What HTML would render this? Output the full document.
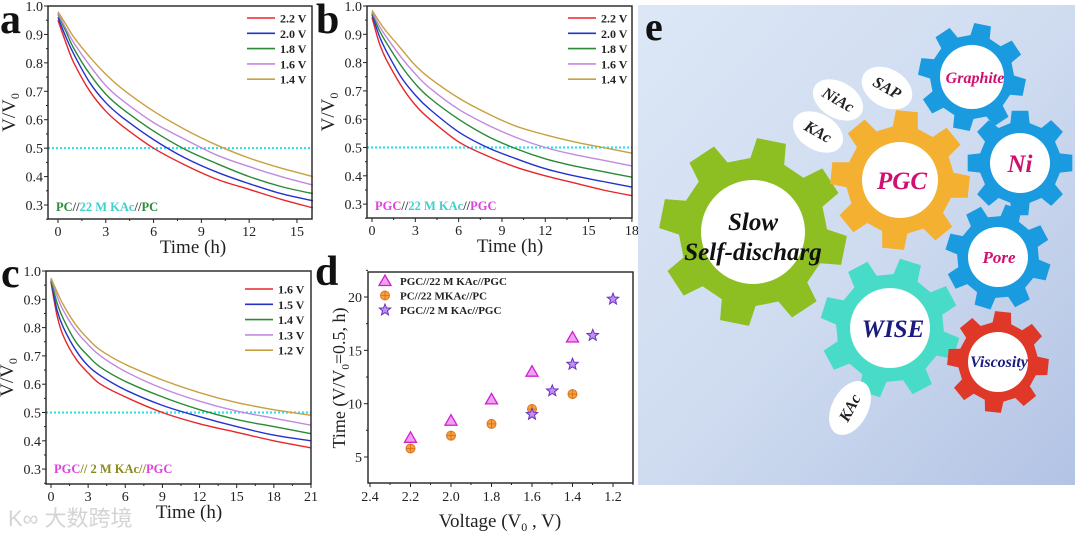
<!DOCTYPE html>
<html><head><meta charset="utf-8">
<style>
html,body{margin:0;padding:0;background:#fff;}
svg{display:block;font-family:"Liberation Serif",serif;}
</style></head>
<body>
<svg id="fig" width="1080" height="533" viewBox="0 0 1080 533">
<defs>
<linearGradient id="bgE" x1="0" y1="0" x2="1" y2="1">
<stop offset="0" stop-color="#dce7f6"/><stop offset="0.5" stop-color="#cfdcf0"/><stop offset="1" stop-color="#b3c3e4"/>
</linearGradient>
</defs>
<g id="root"></g>
</svg>
<script>
// ---- Panel a data ----
const aTimes=[0,0.5,1,2,3,4,6,8,10,12,14,16];
const aLabels=["2.2 V","2.0 V","1.8 V","1.6 V","1.4 V"];
const aS1=[0.95,0.87,0.80,0.70,0.63,0.58,0.50,0.44,0.39,0.355,0.32,0.29];
const aS2=[0.96,0.89,0.83,0.73,0.66,0.61,0.53,0.465,0.415,0.375,0.34,0.315];
const aS3=[0.97,0.91,0.85,0.76,0.69,0.64,0.56,0.495,0.445,0.40,0.365,0.34];
const aS4=[0.975,0.92,0.87,0.79,0.72,0.67,0.59,0.53,0.475,0.435,0.40,0.37];
const aS5=[0.98,0.935,0.89,0.82,0.76,0.71,0.63,0.565,0.51,0.465,0.43,0.40];
const aXTicks=[0,3,6,9,12,15];
// ---- Panel b data ----
const bTimes=[0,0.5,1,2,3,4,6,8,10,12,14,16,18];
const bLabels=["2.2 V","2.0 V","1.8 V","1.6 V","1.4 V"];
const bS1=[0.96,0.87,0.81,0.72,0.65,0.60,0.52,0.47,0.43,0.40,0.375,0.35,0.33];
const bS2=[0.97,0.895,0.84,0.75,0.685,0.635,0.555,0.50,0.46,0.425,0.40,0.38,0.36];
const bS3=[0.975,0.915,0.87,0.79,0.725,0.675,0.60,0.54,0.495,0.46,0.435,0.415,0.395];
const bS4=[0.98,0.93,0.89,0.82,0.76,0.71,0.635,0.58,0.535,0.50,0.475,0.455,0.435];
const bS5=[0.985,0.945,0.91,0.85,0.79,0.745,0.675,0.62,0.575,0.545,0.52,0.50,0.48];
const bXTicks=[0,3,6,9,12,15,18];
// ---- Panel c data ----
const cTimes=[0,0.5,1,2,3,4,6,9,12,15,18,21];
const cLabels=["1.6 V","1.5 V","1.4 V","1.3 V","1.2 V"];
const cS1=[0.96,0.84,0.77,0.69,0.64,0.60,0.555,0.50,0.46,0.43,0.40,0.375];
const cS2=[0.965,0.86,0.80,0.72,0.665,0.63,0.58,0.525,0.485,0.45,0.42,0.40];
const cS3=[0.97,0.885,0.83,0.75,0.70,0.66,0.61,0.555,0.51,0.475,0.45,0.425];
const cS4=[0.975,0.91,0.86,0.79,0.74,0.70,0.645,0.585,0.54,0.505,0.48,0.455];
const cS5=[0.975,0.925,0.88,0.81,0.76,0.72,0.67,0.615,0.57,0.535,0.51,0.49];
const cXTicks=[0,3,6,9,12,15,18,21];
const yTicks=[0.3,0.4,0.5,0.6,0.7,0.8,0.9,1.0];
// ---- Panel d data ----
const dTriV=[2.2,2.0,1.8,1.6,1.4];
const dTriT=[6.8,8.4,10.4,13.0,16.2];
const dCirV=[2.2,2.0,1.8,1.6,1.4];
const dCirT=[5.8,7.0,8.1,9.5,10.9];
const dStarV=[1.6,1.5,1.4,1.3,1.2];
const dStarT=[9.0,11.2,13.7,16.4,19.8];
const dXTicks=[2.4,2.2,2.0,1.8,1.6,1.4,1.2];
const dYTicks=[5,10,15,20];
const dLegend=["PGC//22 M KAc//PGC","PC//22 MKAc//PC","PGC//2 M KAc//PGC"];

const colors=["#e8262a","#2233cc","#2a8a35","#c08ae0","#c8a040"];
const NS="http://www.w3.org/2000/svg";
const root=document.getElementById('root');
function el(tag,attrs,parent,txt){const e=document.createElementNS(NS,tag);for(const k in attrs)e.setAttribute(k,attrs[k]);if(txt!==undefined)e.textContent=txt;(parent||root).appendChild(e);return e;}
function smooth(pts){let d="M"+pts[0][0].toFixed(1)+","+pts[0][1].toFixed(1);
 for(let i=0;i<pts.length-1;i++){const p0=pts[Math.max(0,i-1)],p1=pts[i],p2=pts[i+1],p3=pts[Math.min(pts.length-1,i+2)];
 const c1=[p1[0]+(p2[0]-p0[0])/6,p1[1]+(p2[1]-p0[1])/6],c2=[p2[0]-(p3[0]-p1[0])/6,p2[1]-(p3[1]-p1[1])/6];
 d+=" C"+c1[0].toFixed(1)+","+c1[1].toFixed(1)+" "+c2[0].toFixed(1)+","+c2[1].toFixed(1)+" "+p2[0].toFixed(1)+","+p2[1].toFixed(1);}return d;}

function decayPanel(cfg){
 const g=el('g',{});
 
 
 const L=cfg.L,R=cfg.R,T=cfg.T,B=cfg.B;
 const sx=v=>cfg.x0+(v)*cfg.kx, sy=v=>cfg.y1+(1.0-v)*cfg.ky;
 const rl=el('line',{x1:L,x2:R,y1:sy(0.5),y2:sy(0.5),stroke:"#33e0f0","stroke-width":2.2,"stroke-dasharray":"2,2"},g);
 
 
 cfg.series.forEach((s,i)=>{const p=el('path',{d:smooth(cfg.times.map((t,j)=>[sx(t),sy(s[j])])),fill:"none",stroke:colors[i],"stroke-width":1.4},g);
  
  });
 const fr=el('rect',{x:L,y:T,width:R-L,height:B-T,fill:"none",stroke:"#222","stroke-width":1.4},g);
 
 
 cfg.xticks.forEach((v,i)=>{const x=sx(v);el('line',{x1:x,x2:x,y1:B,y2:B+4,stroke:"#222"},g);
  if(i<cfg.xticks.length-1){const xm=sx(v+(cfg.xticks[1]-cfg.xticks[0])/2);el('line',{x1:xm,x2:xm,y1:B,y2:B+2,stroke:"#222"},g);}
  const t=el('text',{x:x,y:B+17,"text-anchor":"middle","font-size":14,fill:"#222"},g,String(v));
  });
 yTicks.forEach(v=>{const y=sy(v);el('line',{x1:L-4,x2:L,y1:y,y2:y,stroke:"#222"},g);
  el('line',{x1:L-2,x2:L,y1:sy(v-0.05),y2:sy(v-0.05),stroke:"#222"},g);
  const t=el('text',{x:L-5,y:y+5,"text-anchor":"end","font-size":14,fill:"#222"},g,v.toFixed(1));
  });
 const xt=el('text',{x:(cfg.x0+R)/2+8,y:B+34,"text-anchor":"middle","font-size":19,fill:"#222"},g,"Time (h)");
 
 const yt=el('text',{transform:`translate(${L-33},${(T+B)/2}) rotate(-90)`,"text-anchor":"middle","font-size":19,fill:"#222"},g);
 
 yt.innerHTML='V/V<tspan font-size="12" dy="4">0</tspan>';
 cfg.labels.forEach((lb,i)=>{const y=cfg.legY+i*15.3;
  const lg=el('g',{},g);
  el('line',{x1:cfg.legX,x2:cfg.legX+28,y1:y,y2:y,stroke:colors[i],"stroke-width":1.6},lg);
  el('text',{x:cfg.legX+33,y:y+4.5,"font-size":12,"font-weight":"bold",fill:"#222"},lg,lb);});
 const an=el('text',{x:L+8,y:cfg.annY,"font-size":12.5,"font-weight":"bold"},g);
 
 an.innerHTML=cfg.ann;
 const pl=el('text',{x:cfg.pl[0],y:cfg.pl[1],"font-size":42,"font-weight":"bold",fill:"#111"},g,cfg.letter);
 
}
decayPanel({name:'panel-a',letter:'a',pl:[0,33],L:48,R:312,T:6,B:219,x0:58,kx:15.93,y1:6,ky:284.3,times:aTimes,series:[aS1,aS2,aS3,aS4,aS5],labels:aLabels,xticks:aXTicks,legX:247,legY:18,annY:211,
 ann:'<tspan fill="#2a8a35">PC</tspan><tspan fill="#444">//</tspan><tspan fill="#40d0c8">22 M KAc</tspan><tspan fill="#444">//</tspan><tspan fill="#2a8a35">PC</tspan>'});
decayPanel({name:'panel-b',letter:'b',pl:[316,33],L:367,R:632,T:6,B:218,x0:372,kx:14.44,y1:6,ky:283,times:bTimes,series:[bS1,bS2,bS3,bS4,bS5],labels:bLabels,xticks:bXTicks,legX:568,legY:18,annY:210,
 ann:'<tspan fill="#e040e0">PGC</tspan><tspan fill="#444">//</tspan><tspan fill="#40d0c8">22 M KAc</tspan><tspan fill="#444">//</tspan><tspan fill="#e040e0">PGC</tspan>'});
decayPanel({name:'panel-c',letter:'c',pl:[1,287],L:46,R:311,T:271,B:484,x0:51,kx:12.38,y1:271,ky:283,times:cTimes,series:[cS1,cS2,cS3,cS4,cS5],labels:cLabels,xticks:cXTicks,legX:245,legY:289,annY:473,
 ann:'<tspan fill="#e040e0">PGC</tspan><tspan fill="#8a8a20">// 2 M KAc//</tspan><tspan fill="#e040e0">PGC</tspan>'});

// ---- Panel d ----
(function(){
 const g=el('g',{});
 const L=368,R=633,T=272,B=483;
 const sx=v=>370+(2.4-v)*202.5, sy=v=>297+(20-v)*10.667;
 const fr=el('rect',{x:L,y:T,width:R-L,height:B-T,fill:"none",stroke:"#222","stroke-width":1.4},g);
 
 dXTicks.forEach(v=>{const x=sx(v);el('line',{x1:x,x2:x,y1:B,y2:B+4,stroke:"#222"},g);el('line',{x1:x+20,x2:x+20,y1:B,y2:B+2,stroke:"#222"},g);
  const t=el('text',{x:x,y:B+18,"text-anchor":"middle","font-size":14,fill:"#222"},g,v.toFixed(1));});
 dYTicks.forEach(v=>{const y=sy(v);el('line',{x1:L-4,x2:L,y1:y,y2:y,stroke:"#222"},g);el('line',{x1:L-2,x2:L,y1:sy(v+2.5),y2:sy(v+2.5),stroke:"#222"},g);
  const t=el('text',{x:L-6,y:y+5,"text-anchor":"end","font-size":14,fill:"#222"},g,String(v));});
 const xt=el('text',{x:500,y:527,"text-anchor":"middle","font-size":19,fill:"#222"},g);xt.innerHTML='Voltage (V<tspan font-size="12" dy="4">0</tspan><tspan dy="-4"> , V)</tspan>';
 
 const yt=el('text',{transform:`translate(345,378) rotate(-90)`,"text-anchor":"middle","font-size":18,fill:"#222"},g);yt.innerHTML='Time (V/V<tspan font-size="11" dy="4">0</tspan><tspan dy="-4">=0.5, h)</tspan>';
 
 function tri(x,y,p){const m=el('path',{d:`M${x},${y-6}L${x+6},${y+4.5}L${x-6},${y+4.5}Z`,fill:"#f0a0f0",stroke:"#d020d0","stroke-width":1.3},p);return m;}
 function cir(x,y,p){const gg=el('g',{},p);el('circle',{cx:x,cy:y,r:4.5,fill:"#f5a040",stroke:"#e07820"},gg);el('path',{d:`M${x-4.5},${y}H${x+4.5}M${x},${y-4.5}V${y+4.5}`,stroke:"#c06010","stroke-width":0.6},gg);return gg;}
 function star(x,y,p){let d="";for(let i=0;i<10;i++){const r=i%2?2.6:6,a=-Math.PI/2+i*Math.PI/5;d+=(i?"L":"M")+(x+r*Math.cos(a)).toFixed(1)+","+(y+r*Math.sin(a)).toFixed(1);}return el('path',{d:d+"Z",fill:"#c090f0",stroke:"#6a30c0","stroke-width":1},p);}
 dTriV.forEach((v,i)=>{const m=tri(sx(v),sy(dTriT[i]),g);});
 dCirV.forEach((v,i)=>{const m=cir(sx(v),sy(dCirT[i]),g);});
 dStarV.forEach((v,i)=>{const m=star(sx(v),sy(dStarT[i]),g);});
 const fns=[tri,cir,star];
 dLegend.forEach((lb,i)=>{const y=281+i*14.5;const lg=el('g',{},g);
  fns[i](385,y,lg);el('text',{x:400,y:y+4,"font-size":11,"font-weight":"bold",fill:"#222"},lg,lb);});
 const pl=el('text',{x:315,y:285,"font-size":42,"font-weight":"bold",fill:"#111"},g,'d');
})();

// ---- Panel e ----
(function(){
 const g=el('g',{});
 const bg=el('rect',{x:638,y:5,width:437,height:480,fill:"url(#bgE)"},g);
 const pl=el('text',{x:645,y:40,"font-size":40,"font-weight":"bold",fill:"#111"},g,'e');
 function gear(cx,cy,Ro,Ri,rh,n,col,rot){let d="";const step=2*Math.PI/n;
  for(let i=0;i<n;i++){const a=rot+i*step;const pts=[[Ri,a-step*0.3],[Ro,a-step*0.2],[Ro,a+step*0.2],[Ri,a+step*0.3]];
   pts.forEach((p,j)=>{d+=((i===0&&j===0)?"M":"L")+(cx+p[0]*Math.cos(p[1])).toFixed(1)+","+(cy+p[0]*Math.sin(p[1])).toFixed(1);});}
  const gg=el('g',{},g);el('path',{d:d+"Z",fill:col},gg);el('circle',{cx:cx,cy:cy,r:Ri-1,fill:col},gg);el('circle',{cx:cx,cy:cy,r:rh,fill:"#fff"},gg);return gg;}
 function lbl(x,y,t,c,fs,p){return el('text',{x:x,y:y,"text-anchor":"middle","font-size":fs,"font-weight":"bold","font-style":"italic",fill:c},p,t);}
 const gears=[
  ['gear-slow-self-discharge',753,232,94,74,52,8,"#8dbf22",0.2],
  ['gear-pgc',900,180,70,54,38,8,"#f4b030",0.1],
  ['gear-wise',890,328,70,54,40,8,"#48dcc8",0.3],
  ['gear-graphite',972,77,54,42,32,8,"#1a9be0",0.2],
  ['gear-ni',1020,163,53,41,30,8,"#1a9be0",0.0],
  ['gear-pore',998,257,53,41,30,8,"#1a9be0",0.3],
  ['gear-viscosity',998,362,51,40,30,8,"#e03828",0.1]];
 const gs={};gears.forEach(q=>{const gg=gear(q[1],q[2],q[3],q[4],q[5],q[6],q[7],q[8]);gs[q[0]]=gg;});
 lbl(753,230,"Slow","#111",25,gs['gear-slow-self-discharge']);lbl(753,260,"Self-discharg","#111",25,gs['gear-slow-self-discharge']);
 lbl(902,189,"PGC","#d01070",25,gs['gear-pgc']);
 lbl(893,337,"WISE","#1a1a80",25,gs['gear-wise']);
 lbl(975,83,"Graphite","#d01070",16,gs['gear-graphite']);
 lbl(1020,172,"Ni","#d01070",25,gs['gear-ni']);
 lbl(999,263,"Pore","#d01070",17,gs['gear-pore']);
 lbl(999,367,"Viscosity","#1a1a80",16,gs['gear-viscosity']);
 const ells=[['bubble-sap',887,88,27,19,30,"SAP"],['bubble-niac',838,100,27,18,30,"NiAc"],['bubble-kac-top',818,132,27,18,30,"KAc"],['bubble-kac-bottom',850,408,29,18,-62,"KAc"]];
 ells.forEach(e=>{const gg=el('g',{transform:`translate(${e[1]},${e[2]}) rotate(${e[5]})`},g);
  el('ellipse',{cx:0,cy:0,rx:e[3],ry:e[4],fill:"#fff"},gg);el('text',{x:0,y:5,"text-anchor":"middle","font-size":16,"font-weight":"bold","font-style":"italic",fill:"#222"},gg,e[6]);});
})();
// watermark
const wm=el('text',{x:8,y:526,"font-size":22,fill:"#d4d4d4","font-family":"'Liberation Sans','Noto Sans CJK SC',sans-serif"},root,"K∞ 大数跨境");


</script>
</body></html>
